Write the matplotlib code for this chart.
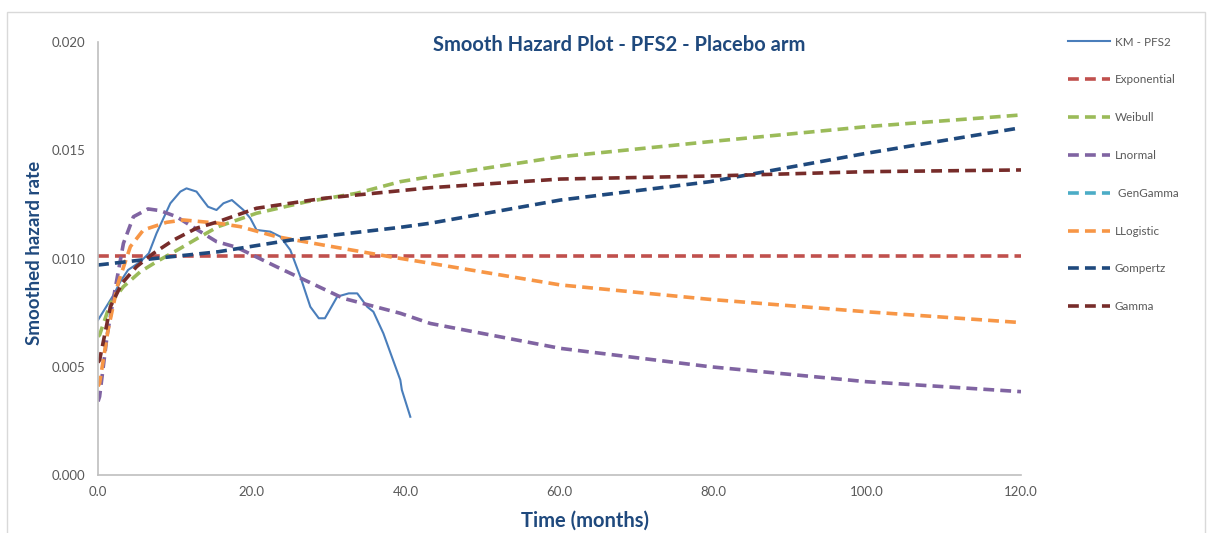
"""
Smooth hazard plot - PFS2 - Placebo arm.

KM smoothed hazard vs. parametric model hazards, values read off the chart.
"""

import matplotlib
matplotlib.use("Agg")
import matplotlib.pyplot as plt
from matplotlib.patches import Rectangle

# KM smoothed hazard (months, rate)
km_t = [0.0, 2.0, 2.9, 3.9, 5.5, 6.6, 7.6, 9.4, 10.7, 11.5, 12.8, 14.3, 15.4,
        16.3, 17.4, 18.9, 19.8, 20.6, 22.4, 23.7, 25.0, 26.3, 27.6, 28.7,
        29.5, 31.1, 32.6, 33.7, 35.0, 35.8, 37.1, 38.2, 39.3, 39.5, 40.6]
km_h = [0.00716, 0.00831, 0.00893, 0.00947, 0.00985, 0.01024, 0.01116,
        0.01255, 0.01309, 0.01324, 0.01309, 0.01239, 0.01224, 0.01255,
        0.01270, 0.01224, 0.01186, 0.01132, 0.01124, 0.01101, 0.01039,
        0.00916, 0.00777, 0.00724, 0.00724, 0.00824, 0.00839, 0.00839,
        0.00777, 0.00754, 0.00654, 0.00546, 0.00439, 0.00393, 0.00269]

exp_t = [0.0, 120.0]
exp_h = [0.0101, 0.0101]

weib_t = [0.0, 0.2, 1.6, 3.3, 5.5, 7.6, 10.7, 13.3, 15.6, 20.6, 27.1, 33.6,
          39.3, 43.2, 60.1, 79.6, 99.9, 120.0]
weib_h = [0.0064, 0.00647, 0.00793, 0.0087, 0.00939, 0.00985, 0.01047,
          0.01101, 0.01147, 0.01209, 0.01262, 0.01301, 0.01355, 0.01378,
          0.0147, 0.0154, 0.01609, 0.01663]

lnorm_t = [0.0, 0.2, 1.2, 2.2, 3.3, 4.6, 6.5, 8.1, 10.2, 13.3, 15.4, 18.0,
           23.2, 31.9, 39.3, 43.2, 60.1, 79.6, 99.9, 120.0]
lnorm_h = [0.0034, 0.00362, 0.0065, 0.00855, 0.0107, 0.01193, 0.01229,
           0.01221, 0.01193, 0.01124, 0.01078, 0.01052, 0.00962, 0.00816,
           0.00747, 0.0070, 0.00585, 0.0050, 0.00431, 0.00385]

gengam_t = []
gengam_h = []

llog_t = [0.0, 0.2, 1.3, 2.6, 4.2, 5.9, 8.9, 11.1, 12.0, 15.6, 18.5, 23.2,
          29.3, 38.0, 43.2, 60.1, 79.6, 99.9, 120.0]
llog_h = [0.0041, 0.00424, 0.0067, 0.00885, 0.01055, 0.01132, 0.01167,
          0.01178, 0.01175, 0.01163, 0.01147, 0.01101, 0.01062, 0.01008,
          0.00978, 0.00878, 0.00811, 0.00754, 0.00704]

gomp_t = [0.0, 7.6, 15.6, 25.0, 39.3, 43.2, 60.1, 79.6, 99.9, 120.0]
gomp_h = [0.0097, 0.01001, 0.01031, 0.01085, 0.01144, 0.01163, 0.0127,
          0.01355, 0.01486, 0.01604]

gamma_t = [0.0, 0.2, 1.6, 3.1, 5.0, 7.2, 9.8, 12.8, 15.6, 20.6, 29.3, 43.2,
           60.1, 79.6, 99.9, 120.0]
gamma_h = [0.0052, 0.00531, 0.00777, 0.00885, 0.00962, 0.01024, 0.01085,
           0.0114, 0.0117, 0.01232, 0.01278, 0.01327, 0.01367, 0.01381,
           0.01401, 0.01409]

x_ticks = [0, 20, 40, 60, 80, 100, 120]
y_ticks = [0.0, 0.005, 0.010, 0.015, 0.020]

plt.rcParams['font.family'] = ['Lato', 'DejaVu Sans']

fig = plt.figure(figsize=(12.12, 5.33), dpi=100)
ax = fig.add_axes([0.0809, 0.1088, 0.7615, 0.8124])

dash = (3.0, 1.7)
lw = 2.6
ax.plot(km_t, km_h, color='#4a7ebb', lw=1.5, label='KM - PFS2')
series = [
    (exp_t, exp_h, '#c0504d', 'Exponential'),
    (weib_t, weib_h, '#9bbb59', 'Weibull'),
    (lnorm_t, lnorm_h, '#8064a2', 'Lnormal'),
    (gengam_t, gengam_h, '#4bacc6', ' GenGamma'),
    (llog_t, llog_h, '#f79646', 'LLogistic'),
    (gomp_t, gomp_h, '#1f497d', 'Gompertz'),
    (gamma_t, gamma_h, '#772c2a', 'Gamma'),
]
for t, h, c, name in series:
    ax.plot(t, h, color=c, lw=lw, ls=(0, dash), label=name)

ax.set_xlim(0, 120)
ax.set_ylim(0, 0.020)
ax.set_xticks(x_ticks)
ax.set_xticklabels([f"{v:.1f}" for v in x_ticks])
ax.set_yticks(y_ticks)
ax.set_yticklabels([f"{v:.3f}" for v in y_ticks])
ax.tick_params(length=0, labelsize=9.5, colors='#595959')
ax.tick_params(axis='y', pad=9)
ax.tick_params(axis='x', pad=8)
for s in ['top', 'right']:
    ax.spines[s].set_visible(False)
for s in ['left', 'bottom']:
    ax.spines[s].set_color('#bfbfbf')
    ax.spines[s].set_linewidth(1.2)

navy = '#1f497d'
fig.text(619 / 1212, 1 - 45 / 533, 'Smooth Hazard Plot - PFS2 - Placebo arm',
         ha='center', va='center', fontsize=14.5, fontweight='bold', color=navy)
fig.text(35 / 1212, 1 - 253 / 533, 'Smoothed hazard rate', rotation=90,
         ha='center', va='center', fontsize=13.5, fontweight='bold', color=navy)
fig.text(585 / 1212, 1 - 521 / 533, 'Time (months)',
         ha='center', va='center', fontsize=14.5, fontweight='bold', color=navy)

leg = ax.legend(loc='upper left', bbox_to_anchor=(1057 / 1212, 1 - 26 / 533),
                bbox_transform=fig.transFigure, frameon=False, fontsize=8.4,
                labelspacing=2.3, handlelength=3.6, handletextpad=0.45)
for text in leg.get_texts():
    text.set_color('#595959')

fig.patches.append(Rectangle((7 / 1212, -0.02), 1198 / 1212, 1.02 - 12 / 533,
                             transform=fig.transFigure, fill=False,
                             edgecolor='#d9d9d9', lw=1.0))

fig.savefig('out.png', dpi=100)
